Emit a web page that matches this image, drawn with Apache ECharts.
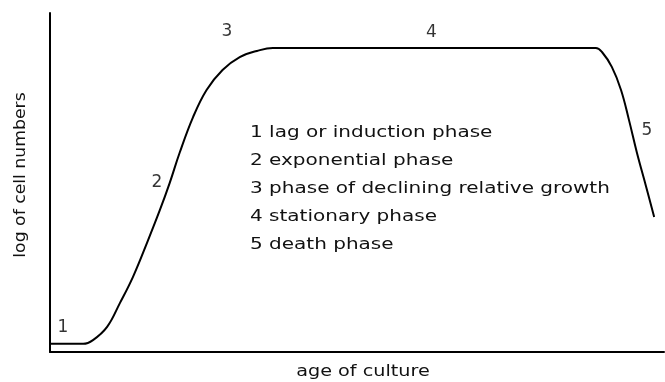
<!DOCTYPE html>
<html>
<head>
<meta charset="utf-8">
<script src="https://cdn.jsdelivr.net/npm/echarts@6/dist/echarts.min.js"></script>
<style>html,body{margin:0;padding:0;background:#fff;}#c{width:665px;height:382px;}</style>
</head>
<body>
<div id="c"></div>
<script>
// age of culture (arbitrary units 0-100)
var ageValues = [0, 5.4, 7.0, 9.3, 11.4, 13.5, 15.8, 17.9, 19.5, 21.1, 23.3, 25.5, 28.1, 30.9, 33.7, 36.3, 88.9, 89.9, 91.5, 93.0, 94.3, 95.6, 97.1, 98.4];
// log of cell numbers (arbitrary units 0-10)
var logCells = [0.24, 0.24, 0.35, 0.74, 1.45, 2.21, 3.22, 4.19, 4.99, 5.87, 6.93, 7.73, 8.32, 8.70, 8.88, 8.97, 8.97, 8.85, 8.41, 7.73, 6.84, 5.87, 4.87, 3.98];
// phase number labels placed along the curve
var phaseNames = ['1', '2', '3', '4', '5'];
var phaseX = [2.1, 17.4, 28.8, 62.1, 97.2];
var phaseY = [0.71, 5.01, 9.44, 9.41, 6.52];
// key text
var keyLines = [
  '1 lag or induction phase',
  '2 exponential phase',
  '3 phase of declining relative growth',
  '4 stationary phase',
  '5 death phase'
];
var xTitle = 'age of culture';
var yTitle = 'log of cell numbers';

var FONT = 'DejaVu Sans';
var chart = echarts.init(document.getElementById('c'), null, {renderer: 'canvas'});

var curve = ageValues.map(function (x, i) { return [x, logCells[i]]; });
var phasePts = phaseNames.map(function (n, i) { return {value: [phaseX[i], phaseY[i]], name: n}; });

var keyCenters = [133, 161, 189, 217, 245];
var graphics = keyLines.map(function (t, i) {
  return {
    type: 'text', x: 250, y: keyCenters[i], scaleX: 1.25,
    style: {text: t, fill: '#111', font: '16px "' + FONT + '"', verticalAlign: 'middle', align: 'left'}
  };
});
graphics.push({
  type: 'text', x: 363, y: 372, scaleX: 1.2,
  style: {text: xTitle, fill: '#111', font: '16px "' + FONT + '"', verticalAlign: 'middle', align: 'center'}
});
graphics.push({
  type: 'text', x: 21, y: 175, rotation: Math.PI / 2, scaleX: 1.15,
  style: {text: yTitle, fill: '#111', font: '15px "' + FONT + '"', verticalAlign: 'middle', align: 'center'}
});

chart.setOption({
  animation: false,
  backgroundColor: '#fff',
  grid: {left: 50, right: 1, top: 13, bottom: 30},
  xAxis: {
    type: 'value', min: 0, max: 100,
    axisLine: {show: true, lineStyle: {color: '#000', width: 2}},
    axisTick: {show: false}, axisLabel: {show: false}, splitLine: {show: false}
  },
  yAxis: {
    type: 'value', min: 0, max: 10,
    axisLine: {show: true, lineStyle: {color: '#000', width: 2}},
    axisTick: {show: false}, axisLabel: {show: false}, splitLine: {show: false}
  },
  graphic: graphics,
  series: [
    {
      type: 'line', data: curve, smooth: 0.4, symbol: 'none',
      lineStyle: {color: '#000', width: 2}
    },
    {
      type: 'scatter', data: phasePts, symbolSize: 0,
      label: {show: true, position: 'inside', formatter: '{b}', color: '#000',
        fontSize: 17, fontFamily: FONT}
    }
  ]
});
</script>
</body>
</html>
